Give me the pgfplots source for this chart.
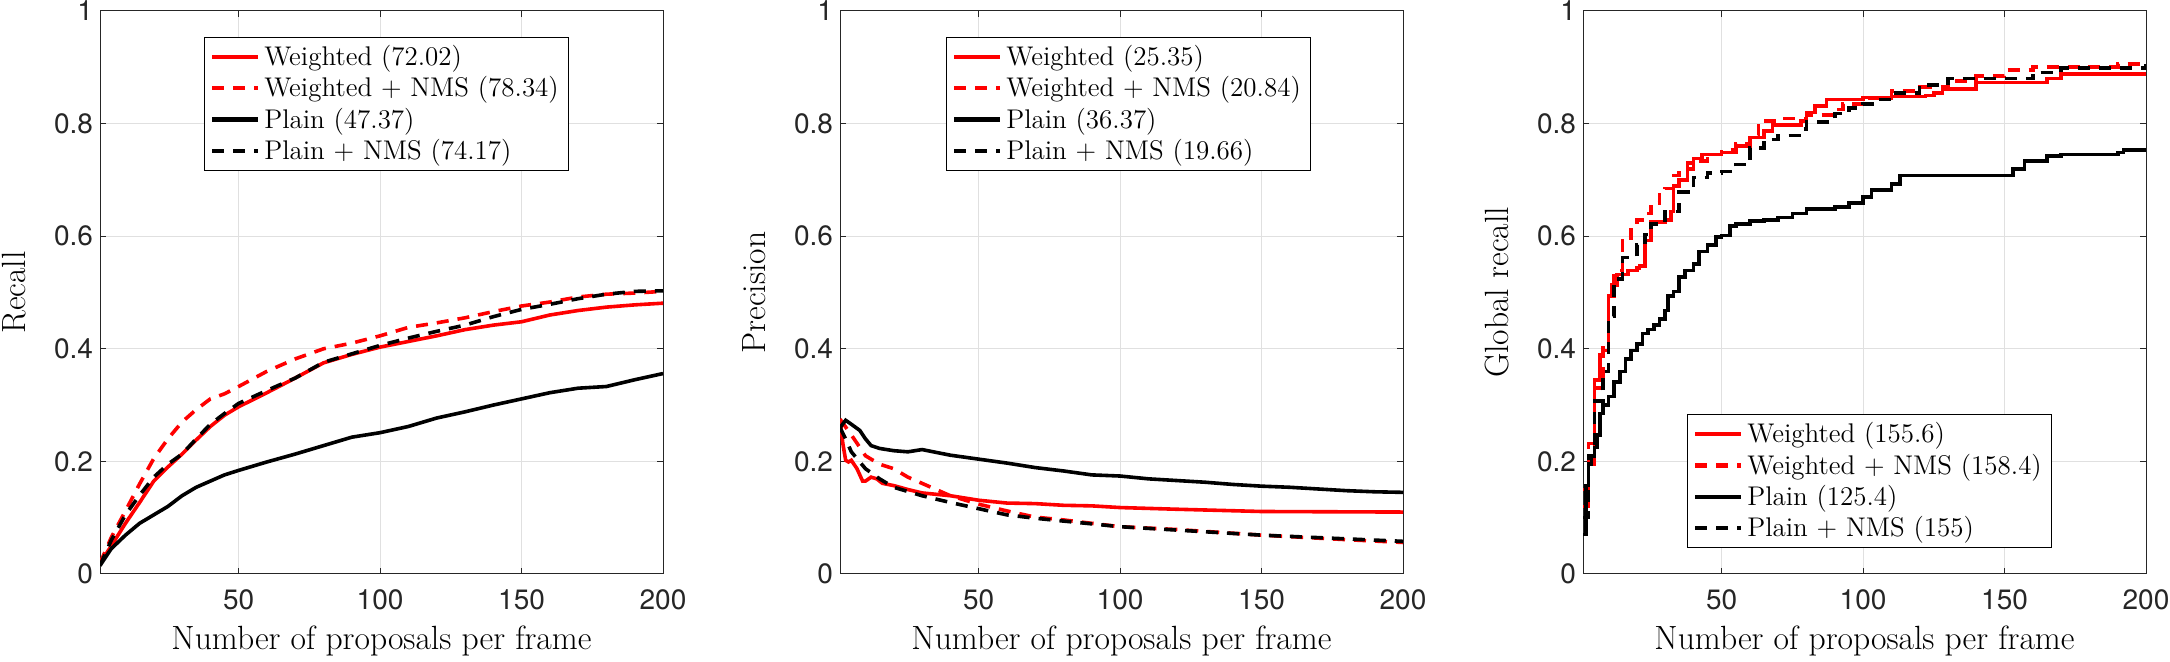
\documentclass[border=0pt]{standalone}
\usepackage{fontspec}
\usepackage{pgfplots}
\pgfplotsset{compat=1.18}
\newfontfamily\ticksf{TeX Gyre Heros}
\definecolor{axgray}{gray}{0.15}
\pgfplotsset{
  panel/.style={
    width=281.5pt, height=281.5pt, scale only axis,
    xmin=1, xmax=200, ymin=0, ymax=1,
    xtick={50,100,150,200}, ytick={0,0.2,0.4,0.6,0.8,1},
    grid=major, grid style={black!12, line width=0.5pt},
    tick align=inside, major tick length=3pt,
    axis line style={axgray, line width=0.5pt},
    tick style={axgray, line width=0.5pt},
    /pgf/number format/assume math mode=true,
    tick label style={font=\ticksf\fontsize{14}{16}\selectfont, text=axgray},
    xticklabel style={yshift=-4.5pt},
    label style={font=\fontsize{16.8}{19}\selectfont},
    xlabel={Number of proposals per frame},
    xlabel style={at={(axis description cs:0.5,-0.135)}, anchor=base},
    ylabel style={at={(axis description cs:-0.153,0.5)}, anchor=center},
    legend cell align=left,
    legend style={font=\fontsize{13.5}{16.5}\selectfont, draw=black, line width=0.5pt,
      inner xsep=3pt, inner ysep=2pt, row sep=0pt},
    legend image code/.code={\draw[##1, line width=2.1pt] (0pt,0pt) -- (23pt,0pt);},
  },
  Wst/.style={red, line width=1.8pt},
  WNst/.style={red, line width=1.8pt, dash pattern=on 6pt off 4.5pt},
  Pst/.style={black, line width=1.8pt},
  PNst/.style={black, line width=1.8pt, dash pattern=on 6pt off 4.5pt},
}
\begin{document}
\begin{tikzpicture}
\useasboundingbox (0,0) rectangle (1085pt,331pt);
% Panel 1
\begin{axis}[panel, at={(50pt,44pt)}, anchor=south west, ylabel={Recall},
  legend style={at={(0.184,0.954)}, anchor=north west}]
\addplot[Wst] coordinates {(1,0.019)(5,0.05)(10,0.09)(15,0.127)(20,0.165)(25,0.19)(30,0.213)(35,0.238)(40,0.262)(45,0.282)(50,0.297)(60,0.322)(70,0.348)(80,0.375)(90,0.39)(100,0.403)(110,0.413)(120,0.423)(130,0.434)(140,0.442)(150,0.448)(160,0.46)(170,0.468)(180,0.474)(190,0.478)(200,0.481)};
\addlegendentry{Weighted (72.02)}
\addplot[WNst] coordinates {(1,0.019)(5,0.065)(10,0.112)(15,0.16)(20,0.205)(25,0.24)(30,0.27)(35,0.292)(40,0.311)(45,0.32)(50,0.333)(60,0.36)(70,0.382)(80,0.40)(90,0.41)(100,0.423)(110,0.438)(120,0.446)(130,0.455)(140,0.466)(150,0.476)(160,0.483)(170,0.492)(180,0.497)(190,0.499)(200,0.502)};
\addlegendentry{Weighted + NMS (78.34)}
\addplot[Pst] coordinates {(1,0.015)(5,0.045)(10,0.069)(15,0.09)(20,0.105)(25,0.12)(30,0.139)(35,0.154)(40,0.165)(45,0.176)(50,0.184)(60,0.199)(70,0.213)(80,0.228)(90,0.243)(100,0.251)(110,0.262)(120,0.277)(130,0.288)(140,0.3)(150,0.311)(160,0.322)(170,0.33)(180,0.333)(190,0.345)(200,0.356)};
\addlegendentry{Plain (47.37)}
\addplot[PNst] coordinates {(1,0.015)(5,0.06)(10,0.105)(15,0.14)(20,0.172)(25,0.195)(30,0.213)(35,0.24)(40,0.266)(45,0.285)(50,0.303)(60,0.326)(70,0.348)(80,0.376)(90,0.391)(100,0.406)(110,0.419)(120,0.431)(130,0.442)(140,0.457)(150,0.47)(160,0.479)(170,0.489)(180,0.497)(190,0.502)(200,0.503)};
\addlegendentry{Plain + NMS (74.17)}
\end{axis}
% Panel 2
\begin{axis}[panel, at={(420pt,44pt)}, anchor=south west, ylabel={Precision},
  legend style={at={(0.1876,0.954)}, anchor=north west}]
\addplot[Wst] coordinates {(1,0.275)(2,0.232)(3,0.202)(4,0.199)(5,0.202)(7,0.187)(9,0.165)(10,0.165)(12,0.172)(14,0.169)(16,0.161)(20,0.157)(25,0.15)(30,0.144)(40,0.139)(50,0.131)(60,0.126)(70,0.125)(80,0.122)(90,0.121)(100,0.118)(120,0.115)(150,0.111)(200,0.11)};
\addlegendentry{Weighted (25.35)}
\addplot[WNst] coordinates {(1,0.275)(5,0.247)(8,0.225)(10,0.21)(15,0.195)(20,0.187)(25,0.172)(30,0.161)(35,0.15)(40,0.139)(50,0.124)(60,0.112)(70,0.101)(80,0.096)(90,0.09)(100,0.084)(120,0.079)(150,0.069)(180,0.061)(200,0.056)};
\addlegendentry{Weighted + NMS (20.84)}
\addplot[Pst] coordinates {(1,0.26)(3,0.273)(5,0.266)(8,0.255)(10,0.24)(12,0.228)(15,0.223)(20,0.219)(25,0.217)(30,0.221)(35,0.216)(40,0.211)(50,0.204)(60,0.197)(70,0.189)(80,0.183)(90,0.176)(100,0.174)(110,0.169)(120,0.166)(130,0.163)(140,0.159)(150,0.156)(160,0.154)(170,0.151)(180,0.148)(190,0.146)(200,0.145)};
\addlegendentry{Plain (36.37)}
\addplot[PNst] coordinates {(1,0.26)(3,0.24)(5,0.217)(10,0.187)(15,0.169)(20,0.154)(30,0.139)(40,0.127)(50,0.116)(60,0.105)(70,0.099)(80,0.094)(100,0.084)(150,0.069)(200,0.058)};
\addlegendentry{Plain + NMS (19.66)}
\end{axis}
% Panel 3
\begin{axis}[panel, at={(791.5pt,44pt)}, anchor=south west, ylabel={Global recall},
  legend style={at={(0.184,0.046)}, anchor=south west}]
\addplot[Wst, const plot] coordinates {(1,0.15)(3,0.195)(5,0.345)(7,0.39)(8,0.397)(10,0.494)(11,0.513)(13,0.532)(17,0.539)(20,0.543)(21,0.547)(23,0.592)(25,0.625)(30,0.629)(32,0.644)(33,0.689)(35,0.70)(38,0.73)(40,0.738)(43,0.745)(50,0.749)(55,0.76)(60,0.775)(65,0.787)(68,0.798)(78,0.805)(80,0.82)(83,0.831)(87,0.843)(100,0.846)(110,0.848)(122,0.85)(125,0.854)(128,0.861)(140,0.873)(165,0.88)(170,0.888)(200,0.888)};
\addlegendentry{Weighted (155.6)}
\addplot[WNst, const plot] coordinates {(1,0.12)(3,0.232)(5,0.33)(8,0.412)(10,0.494)(12,0.539)(15,0.592)(18,0.618)(20,0.629)(23,0.64)(25,0.659)(28,0.678)(30,0.685)(33,0.708)(35,0.719)(40,0.734)(45,0.745)(50,0.753)(55,0.764)(60,0.779)(63,0.805)(70,0.809)(80,0.815)(90,0.825)(93,0.835)(100,0.845)(110,0.858)(120,0.865)(130,0.876)(140,0.884)(150,0.895)(160,0.9)(180,0.901)(190,0.906)(200,0.908)};
\addlegendentry{Weighted + NMS (158.4)}
\addplot[Pst, const plot] coordinates {(1,0.07)(2,0.157)(3,0.195)(4,0.21)(5,0.225)(6,0.247)(7,0.285)(8,0.3)(10,0.315)(12,0.341)(14,0.36)(16,0.382)(18,0.397)(20,0.408)(22,0.427)(24,0.434)(26,0.442)(28,0.453)(30,0.468)(31,0.494)(33,0.502)(35,0.528)(37,0.539)(40,0.551)(42,0.573)(45,0.584)(48,0.599)(50,0.601)(53,0.618)(55,0.622)(60,0.627)(65,0.629)(70,0.633)(75,0.64)(80,0.648)(90,0.652)(95,0.659)(100,0.67)(103,0.682)(110,0.693)(113,0.708)(150,0.708)(153,0.719)(157,0.734)(165,0.742)(170,0.745)(190,0.749)(192,0.753)(200,0.753)};
\addlegendentry{Plain (125.4)}
\addplot[PNst, const plot] coordinates {(1,0.1)(3,0.21)(5,0.307)(8,0.36)(10,0.457)(12,0.524)(15,0.562)(20,0.584)(23,0.603)(25,0.622)(30,0.644)(35,0.678)(40,0.704)(45,0.712)(50,0.715)(55,0.727)(60,0.757)(65,0.772)(70,0.779)(78,0.79)(80,0.803)(90,0.818)(95,0.828)(100,0.835)(105,0.843)(110,0.854)(120,0.869)(130,0.88)(150,0.88)(160,0.891)(170,0.899)(200,0.906)};
\addlegendentry{Plain + NMS (155)}
\end{axis}
\end{tikzpicture}
\end{document}
